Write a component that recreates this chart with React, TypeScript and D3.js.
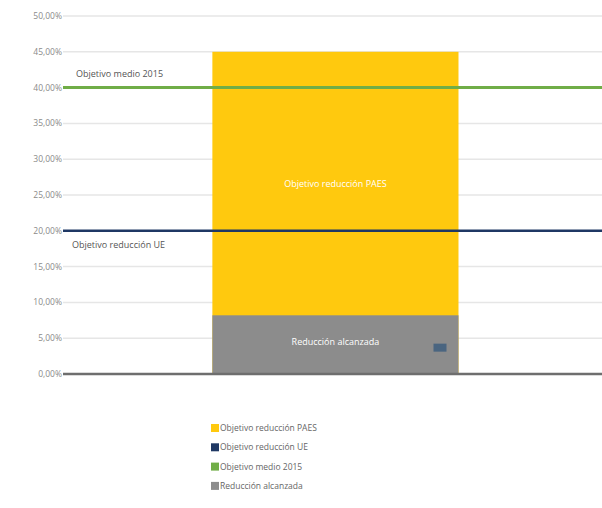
import React from "react";
import * as d3 from "d3";

const yTicks = [0, 5, 10, 15, 20, 25, 30, 35, 40, 45, 50];
const categories = ["2015"];
const paesTarget = [45];
const achieved = [8.2];
const euTarget = 20;
const avgTarget = 40;
const legendItems = [
  { label: "Objetivo reducción PAES", color: "#FFC90E" },
  { label: "Objetivo reducción UE", color: "#1F3864" },
  { label: "Objetivo medio 2015", color: "#70AD47" },
  { label: "Reducción alcanzada", color: "#8C8C8C" },
];

const W = 602;
const H = 508;
const left = 63;
const right = 602;
const top = 16;
const bottom = 374;

export default function App() {
  const y = d3.scaleLinear().domain([0, 50]).range([bottom, top]);
  const x = d3.scaleBand().domain(categories).range([left, right]).paddingInner(0).paddingOuter(0.595).align(0.51);
  const fmt = (v: number) => v.toFixed(2).replace(".", ",") + "%";
  const font = "'Open Sans', 'Noto Sans', sans-serif";
  return (
    <svg width={W} height={H} style={{ position: "absolute", left: 0, top: 0, background: "#fff" }} fontFamily={font}>
      {yTicks.map((t) => (
        <g key={t}>
          <line x1={left} x2={right} y1={y(t)} y2={y(t)} stroke="#e6e6e6" strokeWidth={1.5} />
          <text x={62} y={y(t)} dy="0.35em" textAnchor="end" fontSize={8.5} fill="#8a8a8a">
            {fmt(t)}
          </text>
        </g>
      ))}
      {categories.map((c, i) => {
        const bx = x(c)!;
        const bw = x.bandwidth();
        return (
          <g key={c}>
            <rect x={bx} y={y(paesTarget[i])} width={bw} height={y(0) - y(paesTarget[i])} fill="#FFC90E" />
            <rect x={bx} y={y(achieved[i])} width={bw} height={y(0) - y(achieved[i])} fill="#8C8C8C" />
            <text x={bx + bw / 2} y={y((paesTarget[i] + achieved[i]) / 2)} dy="0.35em" textAnchor="middle" fontSize={9} fill="#fff">
              Objetivo reducción PAES
            </text>
            <text x={bx + bw / 2} y={y(achieved[i] / 2) - 3} dy="0.35em" textAnchor="middle" fontSize={9} fill="#fff">
              Reducción alcanzada
            </text>
            <rect x={bx + bw - 25} y={y(achieved[i] / 2) - 1} width={13} height={8} fill="#4A6580" />
          </g>
        );
      })}
      <line x1={left} x2={right} y1={y(avgTarget)} y2={y(avgTarget)} stroke="#70AD47" strokeWidth={3} />
      <line x1={left} x2={right} y1={y(euTarget)} y2={y(euTarget)} stroke="#1F3864" strokeWidth={2.5} />
      <line x1={left} x2={right} y1={y(0)} y2={y(0)} stroke="#6e6e6e" strokeWidth={2.5} />
      <text x={76} y={y(avgTarget) - 14} dy="0.35em" fontSize={9} fill="#555">
        Objetivo medio 2015
      </text>
      <text x={72} y={y(euTarget) + 14} dy="0.35em" fontSize={9} fill="#555">
        Objetivo reducción UE
      </text>
      {legendItems.map((d, i) => (
        <g key={d.label} transform={`translate(211, ${428 + i * 19.3})`}>
          <rect x={0} y={-4} width={8} height={8} fill={d.color} />
          <text x={9} y={0} dy="0.35em" fontSize={8.5} fill="#666">
            {d.label}
          </text>
        </g>
      ))}
    </svg>
  );
}
